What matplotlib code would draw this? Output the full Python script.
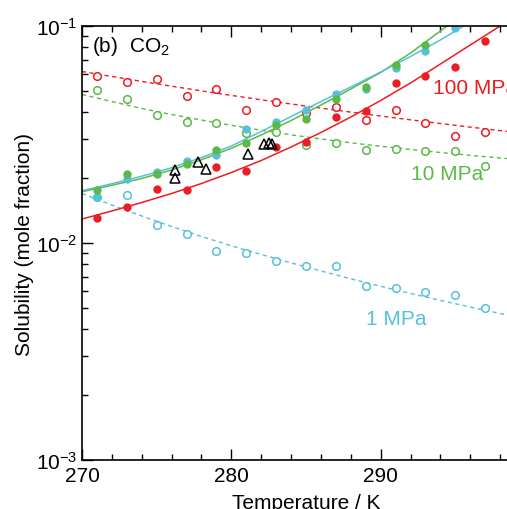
import matplotlib
matplotlib.use('Agg')
import matplotlib.pyplot as plt
import numpy as np
from matplotlib.ticker import MultipleLocator, FixedLocator, LogLocator, NullFormatter

plt.rcParams['font.family'] = ['Liberation Sans', 'DejaVu Sans']
plt.rcParams['mathtext.fontset'] = 'custom'
plt.rcParams['mathtext.rm'] = 'Liberation Sans'

RED = '#ec1c24'
GREEN = '#5ab947'
CYAN = '#56c1d8'

# model curves (solid = hydrate, dashed = liquid)
T_line = [270, 272, 274, 276, 278, 280, 282, 284, 286, 288, 290, 292, 294, 296, 298, 300]
red_solid = [0.01290, 0.01404, 0.01537, 0.01691, 0.01880, 0.02113, 0.02400, 0.02769,
             0.03230, 0.03807, 0.04536, 0.05462, 0.06680, 0.08173, 0.1000, 0.1250]
green_solid = [0.01723, 0.01845, 0.01983, 0.02170, 0.02420, 0.02732, 0.03146, 0.03668,
               0.04324, 0.05126, 0.06106, 0.07508, 0.09484, 0.1210]
cyan_solid = [0.01742, 0.01876, 0.02031, 0.02223, 0.02477, 0.02799, 0.03265, 0.03827,
              0.04488, 0.05235, 0.06138, 0.07236, 0.08621, 0.1043]
red_dash = [0.06171, 0.05852, 0.05556, 0.05280, 0.05023, 0.04789, 0.04570, 0.04371,
            0.04185, 0.04010, 0.03848, 0.03695, 0.03553, 0.03420, 0.03296, 0.03179]
green_dash = [0.04834, 0.04488, 0.04167, 0.03910, 0.03687, 0.03486, 0.03310, 0.03152,
              0.03015, 0.02896, 0.02790, 0.02697, 0.02613, 0.02536, 0.02465, 0.02400]
cyan_dash = [0.01691, 0.01496, 0.01332, 0.01191, 0.01072, 0.009707, 0.008851, 0.008104,
             0.007430, 0.006839, 0.006317, 0.005853, 0.005438, 0.005070, 0.004732, 0.004417]

# simulation points
T_pts = [271, 273, 275, 277, 279, 281, 283, 285, 287, 289, 291, 293, 295, 297]
red_closed = [0.0130, 0.0146, 0.0177, 0.0175, 0.0225, 0.0214, 0.0277, 0.0293,
              0.0379, 0.0404, 0.0545, 0.0589, 0.0644, 0.0850]
green_closed = [0.01754, 0.0208, 0.0207, 0.0231, 0.0269, 0.0289, 0.0351, 0.0373,
                0.0461, 0.0526, 0.0661, 0.0820]
cyan_closed = [0.01630, 0.01965, 0.0213, 0.0239, 0.0255, 0.0334, 0.0360, 0.0411,
               0.0486, 0.0511, 0.0639, 0.0764, 0.0977]
red_open = [0.0586, 0.0554, 0.0570, 0.0474, 0.0514, 0.0409, 0.0448, 0.0397,
            0.0422, 0.0370, 0.0411, 0.0358, 0.0312, 0.0324]
green_open = [0.0507, 0.0461, 0.0388, 0.0363, 0.0357, 0.0320, 0.0324, 0.0284,
              0.0289, 0.0269, 0.0271, 0.0265, 0.0266, 0.0226]
cyan_open = [0.0163, 0.01665, 0.01211, 0.01104, 0.00922, 0.00896, 0.00829, 0.00781,
             0.00786, 0.00636, 0.00622, 0.00597, 0.00574, 0.00500]

# experimental points (triangles)
T_exp = [276.2, 276.2, 277.75, 278.3, 281.1, 282.2, 282.5, 282.75]
x_exp = [0.0218, 0.0199, 0.0237, 0.0219, 0.0257, 0.0286, 0.0289, 0.0286]

xticks = [270, 280, 290]

fig = plt.figure(figsize=(5.07, 5.10), dpi=100)
# axes run past the right edge of the picture (cropped figure)
ax = fig.add_axes([82/507, 1 - 461/510, 448/507, 434/510])

ax.plot(T_line, red_dash, color=RED, lw=1.0, ls=(0, (3, 2.5)))
ax.plot(T_line, green_dash, color=GREEN, lw=1.0, ls=(0, (3, 2.5)))
ax.plot(T_line, cyan_dash, color=CYAN, lw=1.0, ls=(0, (3, 2.5)))

for vals, c in [(red_open, RED), (green_open, GREEN), (cyan_open, CYAN)]:
    ax.plot(T_pts[:len(vals)], vals, 'o', ms=5.5, mfc='white', mec=c, mew=1.1, ls='none')

ax.plot(T_line[:len(red_solid)], red_solid, color=RED, lw=1.1)
ax.plot(T_line[:len(green_solid)], green_solid, color=GREEN, lw=1.1)
ax.plot(T_line[:len(cyan_solid)], cyan_solid, color=CYAN, lw=1.1)

for vals, c in [(red_closed, RED), (cyan_closed, CYAN), (green_closed, GREEN)]:
    ax.plot(T_pts[:len(vals)], vals, 'o', ms=5.0, color=c, ls='none')

ax.plot(T_exp, x_exp, '^', ms=7.5, mfc='none', mec='black', mew=1.1, ls='none')

ax.set_yscale('log')
ax.set_xlim(270, 300)
ax.set_ylim(1e-3, 1e-1)

ax.xaxis.set_major_locator(FixedLocator(xticks))
ax.xaxis.set_minor_locator(MultipleLocator(2))
ax.yaxis.set_major_locator(LogLocator(base=10))
ax.yaxis.set_minor_locator(LogLocator(base=10, subs=np.arange(2, 10)))
ax.yaxis.set_minor_formatter(NullFormatter())

ax.tick_params(which='both', direction='in', top=True, right=False, width=1.0,
               labelsize=15, colors='black')
ax.tick_params(which='major', length=8)
ax.tick_params(which='minor', length=4.5)
ax.tick_params(axis='x', pad=4)
for s in ax.spines.values():
    s.set_linewidth(1.2)

ax.set_xlabel('Temperature / K', fontsize=15, labelpad=6)
ax.set_ylabel('Solubility (mole fraction)', fontsize=15, labelpad=1)

ax.text(0.022, 0.954, r'(b)  CO$_2$', transform=ax.transAxes, fontsize=15,
        va='center', ha='left')
ax.text(293.5, 0.0523, '100 MPa', color=RED, fontsize=15, va='center', ha='left')
ax.text(292.0, 0.0208, '10 MPa', color=GREEN, fontsize=15, va='center', ha='left')
ax.text(289.0, 0.00447, '1 MPa', color=CYAN, fontsize=15, va='center', ha='left')

fig.savefig('out.png', dpi=100)
